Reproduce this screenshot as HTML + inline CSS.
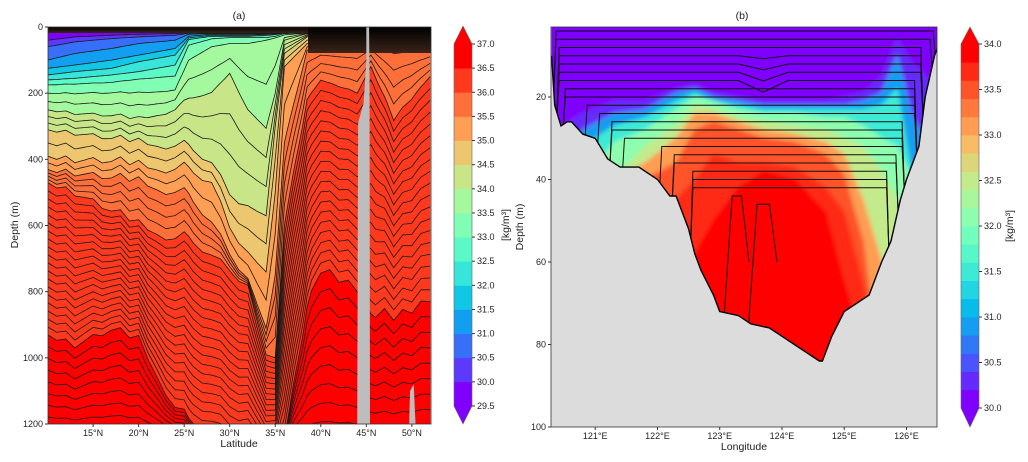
<!DOCTYPE html>
<html><head><meta charset="utf-8">
<style>
html,body{margin:0;padding:0;background:#fff;}
svg{display:block;font-family:"Liberation Sans","DejaVu Sans",sans-serif;}
.tk{font-size:9px;fill:#222;}
.lb{font-size:10.5px;fill:#222;}
</style></head>
<body>
<svg id="fig" width="1028" height="462" viewBox="0 0 1028 462" xmlns="http://www.w3.org/2000/svg">
<defs>
<clipPath id="clipA"><rect x="48" y="27" width="383" height="397"/></clipPath>
<clipPath id="clipB"><rect x="551" y="27" width="386" height="400"/></clipPath>
<clipPath id="waterB"><path id="waterPath" d=""/></clipPath>
<linearGradient id="topDark" x1="0" y1="0" x2="0" y2="1">
<stop offset="0" stop-color="#000"/><stop offset="1" stop-color="#3a2418"/></linearGradient>
<filter id="soft" x="-5%" y="-5%" width="110%" height="110%"><feGaussianBlur stdDeviation="2.2"/></filter>
</defs>
<g id="panelA"></g>
<g id="panelB"></g>
</svg>
<script>
const NS='http://www.w3.org/2000/svg';
function mk(tag,attrs,parent){const e=document.createElementNS(NS,tag);for(const k in attrs)e.setAttribute(k,attrs[k]);if(parent)parent.appendChild(e);return e;}
function rainbow(x){const r=Math.min(1,Math.abs(2*x-0.5)),g=Math.sin(Math.PI*x),b=Math.cos(Math.PI*x/2);return `rgb(${Math.round(r*255)},${Math.round(g*255)},${Math.round(Math.max(0,b)*255)})`;}

// ===== Panel A data =====
const latA=[10,13,17,20,24,25.5,28,30,32,34,35,36,38.5,40,44,45.5,48,52];
const levelsA=[30.0,30.5,31.0,31.5,32.0,32.5,33.0,33.5,34.0,34.5,35.0,35.5,36.0,36.5];
const dA30_0=[40,30,25,22,20,18,18,18,18,18,18,18,18,18,18,18,18,18];
const dA30_5=[60,45,35,30,25,19,18,18,18,18,18,18,18,18,18,18,18,18];
const dA31_0=[100,80,65,50,40,22,20,20,20,20,19,18,18,18,18,18,18,18];
const dA31_5=[125,115,100,85,65,28,22,22,22,21,20,18,18,18,18,18,18,18];
const dA32_0=[145,135,125,105,85,33,25,25,25,23,21,18,18,18,18,18,18,18];
const dA32_5=[160,155,145,135,115,38,28,28,28,26,23,18,18,18,18,18,18,18];
const dA33_0=[175,172,168,158,148,55,36,32,32,32,28,20,18,18,18,18,18,18];
const dA33_5=[200,200,200,200,190,100,60,50,50,40,33,24,18,18,18,18,18,18];
const dA34_0=[250,260,270,280,250,220,200,140,250,300,200,40,20,18,18,18,18,18];
const dA34_5=[310,320,340,350,360,370,420,500,540,560,300,80,30,20,18,18,18,18];
const dA35_0=[390,400,410,420,430,440,480,600,680,730,500,120,50,40,30,30,40,40];
const dA35_5=[430,440,460,470,500,520,600,680,760,900,750,350,70,60,60,50,80,70];
const dA36_0=[470,500,560,600,640,650,700,730,780,980,1000,600,220,160,200,120,280,150];
const dA36_5=[930,960,920,950,1150,1200,1230,1250,1260,1300,1300,1250,850,730,800,860,880,830];
const boundsA=[dA30_0,dA30_5,dA31_0,dA31_5,dA32_0,dA32_5,dA33_0,dA33_5,dA34_0,dA34_5,dA35_0,dA35_5,dA36_0,dA36_5];
const rippleLat=[10,11,12,13,14,15,16,17,18,19,20,21,22,23,24,25,26,27,28,29,30,31,32,33,34,35,36,37,38,39,40,41,42,43,44,45,46,47,48,49,50,51,52];
const rippleDepth=[0,10,-10,15,0,-15,5,-5,-30,0,-25,5,10,20,0,-40,-10,0,-15,-20,10,20,0,10,15,0,0,-15,10,-20,20,-20,10,-25,0,0,20,-30,10,-20,15,-20,0];
const latTicksA=[15,20,25,30,35,40,45,50];
const depthTicksA=[0,200,400,600,800,1000,1200];
const cbarTicksA=[29.5,30.0,30.5,31.0,31.5,32.0,32.5,33.0,33.5,34.0,34.5,35.0,35.5,36.0,36.5,37.0];

// ===== Panel B data =====
const lonB=[120.3,120.8,121.3,121.8,122.3,122.6,122.9,123.3,123.7,124.2,124.7,125.0,125.3,125.6,125.85,126.1,126.5];
const levelsB=[30.0,30.6,31.2,31.8,32.4,32.8,33.2,33.6,33.8];
const dB30_0=[30,24,21,21,18,17,19,20,21,21,21,20,19,15,6,12,20];
const dB30_6=[40,28,24,23,19,18,20,21,22,22,22,22,21,19,10,25,40];
const dB31_2=[40,32,27,25,21,19,21,22,23,23,23,23,23,22,18,40,40];
const dB31_8=[40,40,31,28,23,20,21,23,24,24,25,25,27,30,32,40,40];
const dB32_4=[40,40,40,32,27,22,23,25,26,27,28,30,32,38,45,45,45];
const dB32_8=[40,40,40,36,30,24,24,26,28,29,31,34,45,60,90,90,90];
const dB33_2=[50,50,50,40,36,28,26,28,30,31,34,39,55,90,90,90,90];
const dB33_6=[50,50,50,46,45,40,34,36,36,37,42,48,65,90,90,90,90];
const dB33_8=[90,90,90,90,65,58,50,42,38,40,48,65,80,90,90,90,90];
const boundsB=[dB30_0,dB30_6,dB31_2,dB31_8,dB32_4,dB32_8,dB33_2,dB33_6,dB33_8];
const bathyLon=[120.3,120.35,120.45,120.55,120.62,120.8,121.0,121.2,121.4,121.7,122.0,122.2,122.3,122.5,122.6,122.7,122.9,123.0,123.3,123.5,123.8,124.0,124.2,124.4,124.6,124.65,124.8,125.0,125.2,125.4,125.6,125.75,125.9,126.0,126.2,126.3,126.45,126.5];
const bathyDepth=[10,22,27,26,26,29,30,35,37,37,40,44,44,52,58,62,68,72,73,75,76,78,80,82,84,84,78,72,70,68,60,55,45,40,32,20,10,8];
const contourDepthsB=[4,6,8,10,12,14,16,18,20,22,24,26,28,30,32,34,36,38,40,42];
const lonTicksB=[121,122,123,124,125,126];
const depthTicksB=[20,40,60,80,100];
const cbarTicksB=[30.0,30.5,31.0,31.5,32.0,32.5,33.0,33.5,34.0];

// ===== Axis functions =====
const xA=lat=>48+(lat-10.05)*(431-48)/(52.1-10.05);
const yA=d=>27+d*(397/1200);
const xB=lon=>551+(lon-120.29)*(937-551)/(126.49-120.29);
const yB=d=>14.5+d*4.125;

function interp(xs,ys,x){if(x<=xs[0])return ys[0];for(let i=1;i<xs.length;i++){if(x<=xs[i]){const t=(x-xs[i-1])/(xs[i]-xs[i-1]);return ys[i-1]+t*(ys[i]-ys[i-1]);}}return ys[ys.length-1];}

const fineLat=[];for(let l=10;l<=52.001;l+=0.25)fineLat.push(l);
function fineDepth(arr){return fineLat.map(l=>{const d=interp(latA,arr,l);const w=0.7*Math.max(0,Math.min(1,(d-150)/250));return d+w*interp(rippleLat,rippleDepth,l);});}
const fineBounds=boundsA.map(fineDepth);

// ===== Draw Panel A =====
const gA=document.getElementById('panelA');
const plotA=mk('g',{'clip-path':'url(#clipA)'},gA);


for(let j=0;j<=fineBounds.length;j++){
  const top=j===0?fineLat.map(()=>0):fineBounds[j-1];
  const bot=j===fineBounds.length?fineLat.map(()=>1300):fineBounds[j];
  let pts=fineLat.map((l,i)=>`${xA(l).toFixed(1)},${yA(top[i]).toFixed(1)}`);
  for(let i=fineLat.length-1;i>=0;i--)pts.push(`${xA(fineLat[i]).toFixed(1)},${yA(bot[i]).toFixed(1)}`);
  const p=mk('polygon',{points:pts.join(' '),fill:rainbow(j/14),stroke:rainbow(j/14),'stroke-width':0.5},plotA);
  
  
}
function drawLineA(d){
  const pl=mk('polyline',{points:fineLat.map((l,i)=>`${xA(l).toFixed(1)},${yA(d[i]).toFixed(1)}`).join(' '),fill:'none',stroke:'#1a1a1a','stroke-width':0.8},plotA);
  
  
}
const bottomA=fineLat.map(()=>1250);
const allB=[...fineBounds,bottomA];
for(let j=0;j<allB.length-1;j++){
  const a=allB[j],b=allB[j+1];
  let avg=0;for(let i=0;i<a.length;i++)avg+=b[i]-a[i];avg/=a.length;
  const n=Math.max(1,Math.round(avg/27));
  for(let k=0;k<n;k++){const f=k/n;drawLineA(a.map((v,i)=>v*(1-f)+b[i]*f));}
}
mk('rect',{x:48,y:27,width:383,height:6,fill:'url(#topDark)'},plotA);
mk('rect',{x:xA(38.6),y:27,width:431-xA(38.6),height:26,fill:'url(#topDark)'},plotA);
const land=mk('polygon',{points:`${xA(44.0)},424 ${xA(44.1)},${yA(290)} ${xA(44.7)},${yA(230)} ${xA(45.0)},${yA(100)} ${xA(45.0)},27 ${xA(45.3)},27 ${xA(45.35)},${yA(150)} ${xA(45.4)},424`,fill:'#bdbdbd'},plotA);


const land2=mk('polygon',{points:`${xA(49.7)},424 ${xA(49.8)},${yA(1100)} ${xA(50.2)},${yA(1080)} ${xA(50.4)},424`,fill:'#bdbdbd'},plotA);


const frA=mk('rect',{x:48,y:27,width:383,height:397,fill:'none',stroke:'#333','stroke-width':0.8},gA);


latTicksA.forEach(v=>{const x=xA(v);mk('line',{x1:x,y1:424,x2:x,y2:427,stroke:'#333'},gA);
  const t=mk('text',{x:x,y:436,'text-anchor':'middle',class:'tk'},gA);t.textContent=v+'°N';
  });
depthTicksA.forEach(v=>{const y=yA(v);mk('line',{x1:45,y1:y,x2:48,y2:y,stroke:'#333'},gA);
  const t=mk('text',{x:43,y:y+3,'text-anchor':'end',class:'tk'},gA);t.textContent=v;
  });
let t=mk('text',{x:239,y:19,'text-anchor':'middle',class:'lb'},gA);t.textContent='(a)';
t=mk('text',{x:239,y:447,'text-anchor':'middle',class:'lb'},gA);t.textContent='Latitude';
t=mk('text',{x:18,y:225,'text-anchor':'middle',class:'lb',transform:'rotate(-90 18 225)'},gA);t.textContent='Depth (m)';
function colorbar(g,x0,w,yTop,yBot,apexT,apexB,nb,ticks,vmin,vmax,name,labelX){
  const cb=mk('g',{},g);
  const h=(yBot-yTop)/nb;
  for(let i=0;i<nb;i++){mk('rect',{x:x0,y:yBot-(i+1)*h,width:w,height:h+0.4,fill:rainbow(i/(nb-1))},cb);}
  mk('polygon',{points:`${x0},${yTop} ${x0+w/2},${apexT} ${x0+w},${yTop}`,fill:rainbow(1)},cb);
  mk('polygon',{points:`${x0},${yBot} ${x0+w/2},${apexB} ${x0+w},${yBot}`,fill:rainbow(0)},cb);
  mk('polygon',{points:`${x0},${yTop} ${x0+w/2},${apexT} ${x0+w},${yTop} ${x0+w},${yBot} ${x0+w/2},${apexB} ${x0},${yBot}`,fill:'none',stroke:'#666','stroke-width':0.6},cb);
  ticks.forEach(v=>{const y=yBot-(v-vmin)/(vmax-vmin)*(yBot-yTop);mk('line',{x1:x0+w,y1:y,x2:x0+w+3,y2:y,stroke:'#333'},cb);
    const tt=mk('text',{x:x0+w+5,y:y+3,class:'tk'},cb);tt.textContent=v.toFixed(1);
    });
  const yc=(yTop+yBot)/2;
  const lt=mk('text',{x:labelX,y:yc,'text-anchor':'middle',class:'lb',transform:`rotate(-90 ${labelX} ${yc})`},cb);
  lt.textContent='[kg/m³]';
}
colorbar(gA,454,18,44,406,26,424,15,cbarTicksA,29.5,37.0,'colorbar-a',509);

// ===== Draw Panel B =====
const gB=document.getElementById('panelB');
const plotB=mk('g',{'clip-path':'url(#clipB)'},gB);


mk('rect',{x:551,y:27,width:386,height:400,fill:'#dcdcdc'},plotB);
let wp=`M${xB(bathyLon[0])},0 `+bathyLon.map((l,i)=>`L${xB(l).toFixed(1)},${yB(bathyDepth[i]).toFixed(1)}`).join(' ')+` L${xB(bathyLon[bathyLon.length-1])},0 Z`;
document.getElementById('waterPath').setAttribute('d',wp);
const water=mk('g',{'clip-path':'url(#waterB)'},plotB);


const fillB=mk('g',{filter:'url(#soft)'},water);
for(let j=0;j<=boundsB.length;j++){
  const top=j===0?lonB.map(()=>-5):boundsB[j-1];
  const bot=j===boundsB.length?lonB.map(()=>110):boundsB[j];
  let col;
  if(j===0)col=rainbow(0);
  else{const m=j===boundsB.length?33.9:(levelsB[j-1]+levelsB[j])/2;col=rainbow(Math.min(19,Math.floor((m-30)/0.2))/19);}
  let pts=lonB.map((l,i)=>`${(xB(l)+(i===0?-10:i===lonB.length-1?10:0)).toFixed(1)},${yB(top[i]).toFixed(1)}`);
  for(let i=lonB.length-1;i>=0;i--)pts.push(`${(xB(lonB[i])+(i===0?-10:i===lonB.length-1?10:0)).toFixed(1)},${yB(bot[i]).toFixed(1)}`);
  const p=mk('polygon',{points:pts.join(' '),fill:col,stroke:col,'stroke-width':1},fillB);
  
  
}
contourDepthsB.forEach((d,k)=>{
  const need=d+3+d*0.12;
  let iL=-1,iR=-1;
  for(let i=0;i<bathyLon.length;i++){if(bathyDepth[i]>=need){if(iL<0)iL=i;iR=i;}}
  if(iL<0)return;
  const lonL=bathyLon[iL]+0.03,lonR=bathyLon[iR]-0.03;
  const dip=d<=16&&d>=10?(d-8)*0.35:0;
  const pts=[];
  pts.push(`${xB(lonL).toFixed(1)},${yB(interp(bathyLon,bathyDepth,lonL)+3).toFixed(1)}`);
  pts.push(`${xB(lonL+0.04).toFixed(1)},${yB(d).toFixed(1)}`);
  if(dip>0){pts.push(`${xB(123.3)},${yB(d)}`);pts.push(`${xB(123.7)},${yB(d+dip)}`);pts.push(`${xB(124.1)},${yB(d)}`);}
  pts.push(`${xB(lonR-0.04).toFixed(1)},${yB(d).toFixed(1)}`);
  pts.push(`${xB(lonR).toFixed(1)},${yB(interp(bathyLon,bathyDepth,lonR)+3).toFixed(1)}`);
  const pl=mk('polyline',{points:pts.join(' '),fill:'none',stroke:'#111','stroke-width':1},water);
  
  
});
const pl0=mk('line',{x1:551,y1:yB(1.5),x2:937,y2:yB(1.5),stroke:'#111','stroke-width':1},water);

const core=[[123.2,123.35,44],[123.6,123.8,46]];
core.forEach(c=>{const pl=mk('polyline',{points:`${xB(c[0]-0.15)},${yB(78)} ${xB(c[0])},${yB(c[2])} ${xB(c[1])},${yB(c[2])} ${xB(c[1]+0.12)},${yB(60)}`,fill:'none',stroke:'#111','stroke-width':1},water);
  });
const bl=mk('polyline',{points:bathyLon.map((l,i)=>`${xB(l).toFixed(1)},${yB(bathyDepth[i]).toFixed(1)}`).join(' '),fill:'none',stroke:'#000','stroke-width':1.4},plotB);

const frB=mk('rect',{x:551,y:27,width:386,height:400,fill:'none',stroke:'#333','stroke-width':0.8},gB);

lonTicksB.forEach(v=>{const x=xB(v);mk('line',{x1:x,y1:427,x2:x,y2:430,stroke:'#333'},gB);
  const tt=mk('text',{x:x,y:439,'text-anchor':'middle',class:'tk'},gB);tt.textContent=v+'°E';
  });
depthTicksB.forEach(v=>{const y=yB(v);mk('line',{x1:548,y1:y,x2:551,y2:y,stroke:'#333'},gB);
  const tt=mk('text',{x:546,y:y+3,'text-anchor':'end',class:'tk'},gB);tt.textContent=v;
  });
t=mk('text',{x:742,y:19,'text-anchor':'middle',class:'lb'},gB);t.textContent='(b)';
t=mk('text',{x:744,y:450,'text-anchor':'middle',class:'lb'},gB);t.textContent='Longitude';
t=mk('text',{x:523,y:227,'text-anchor':'middle',class:'lb',transform:'rotate(-90 523 227)'},gB);t.textContent='Depth (m)';
colorbar(gB,961,18,44,408,27,427,20,cbarTicksB,30.0,34.0,'colorbar-b',1013);
</script>
</body></html>
